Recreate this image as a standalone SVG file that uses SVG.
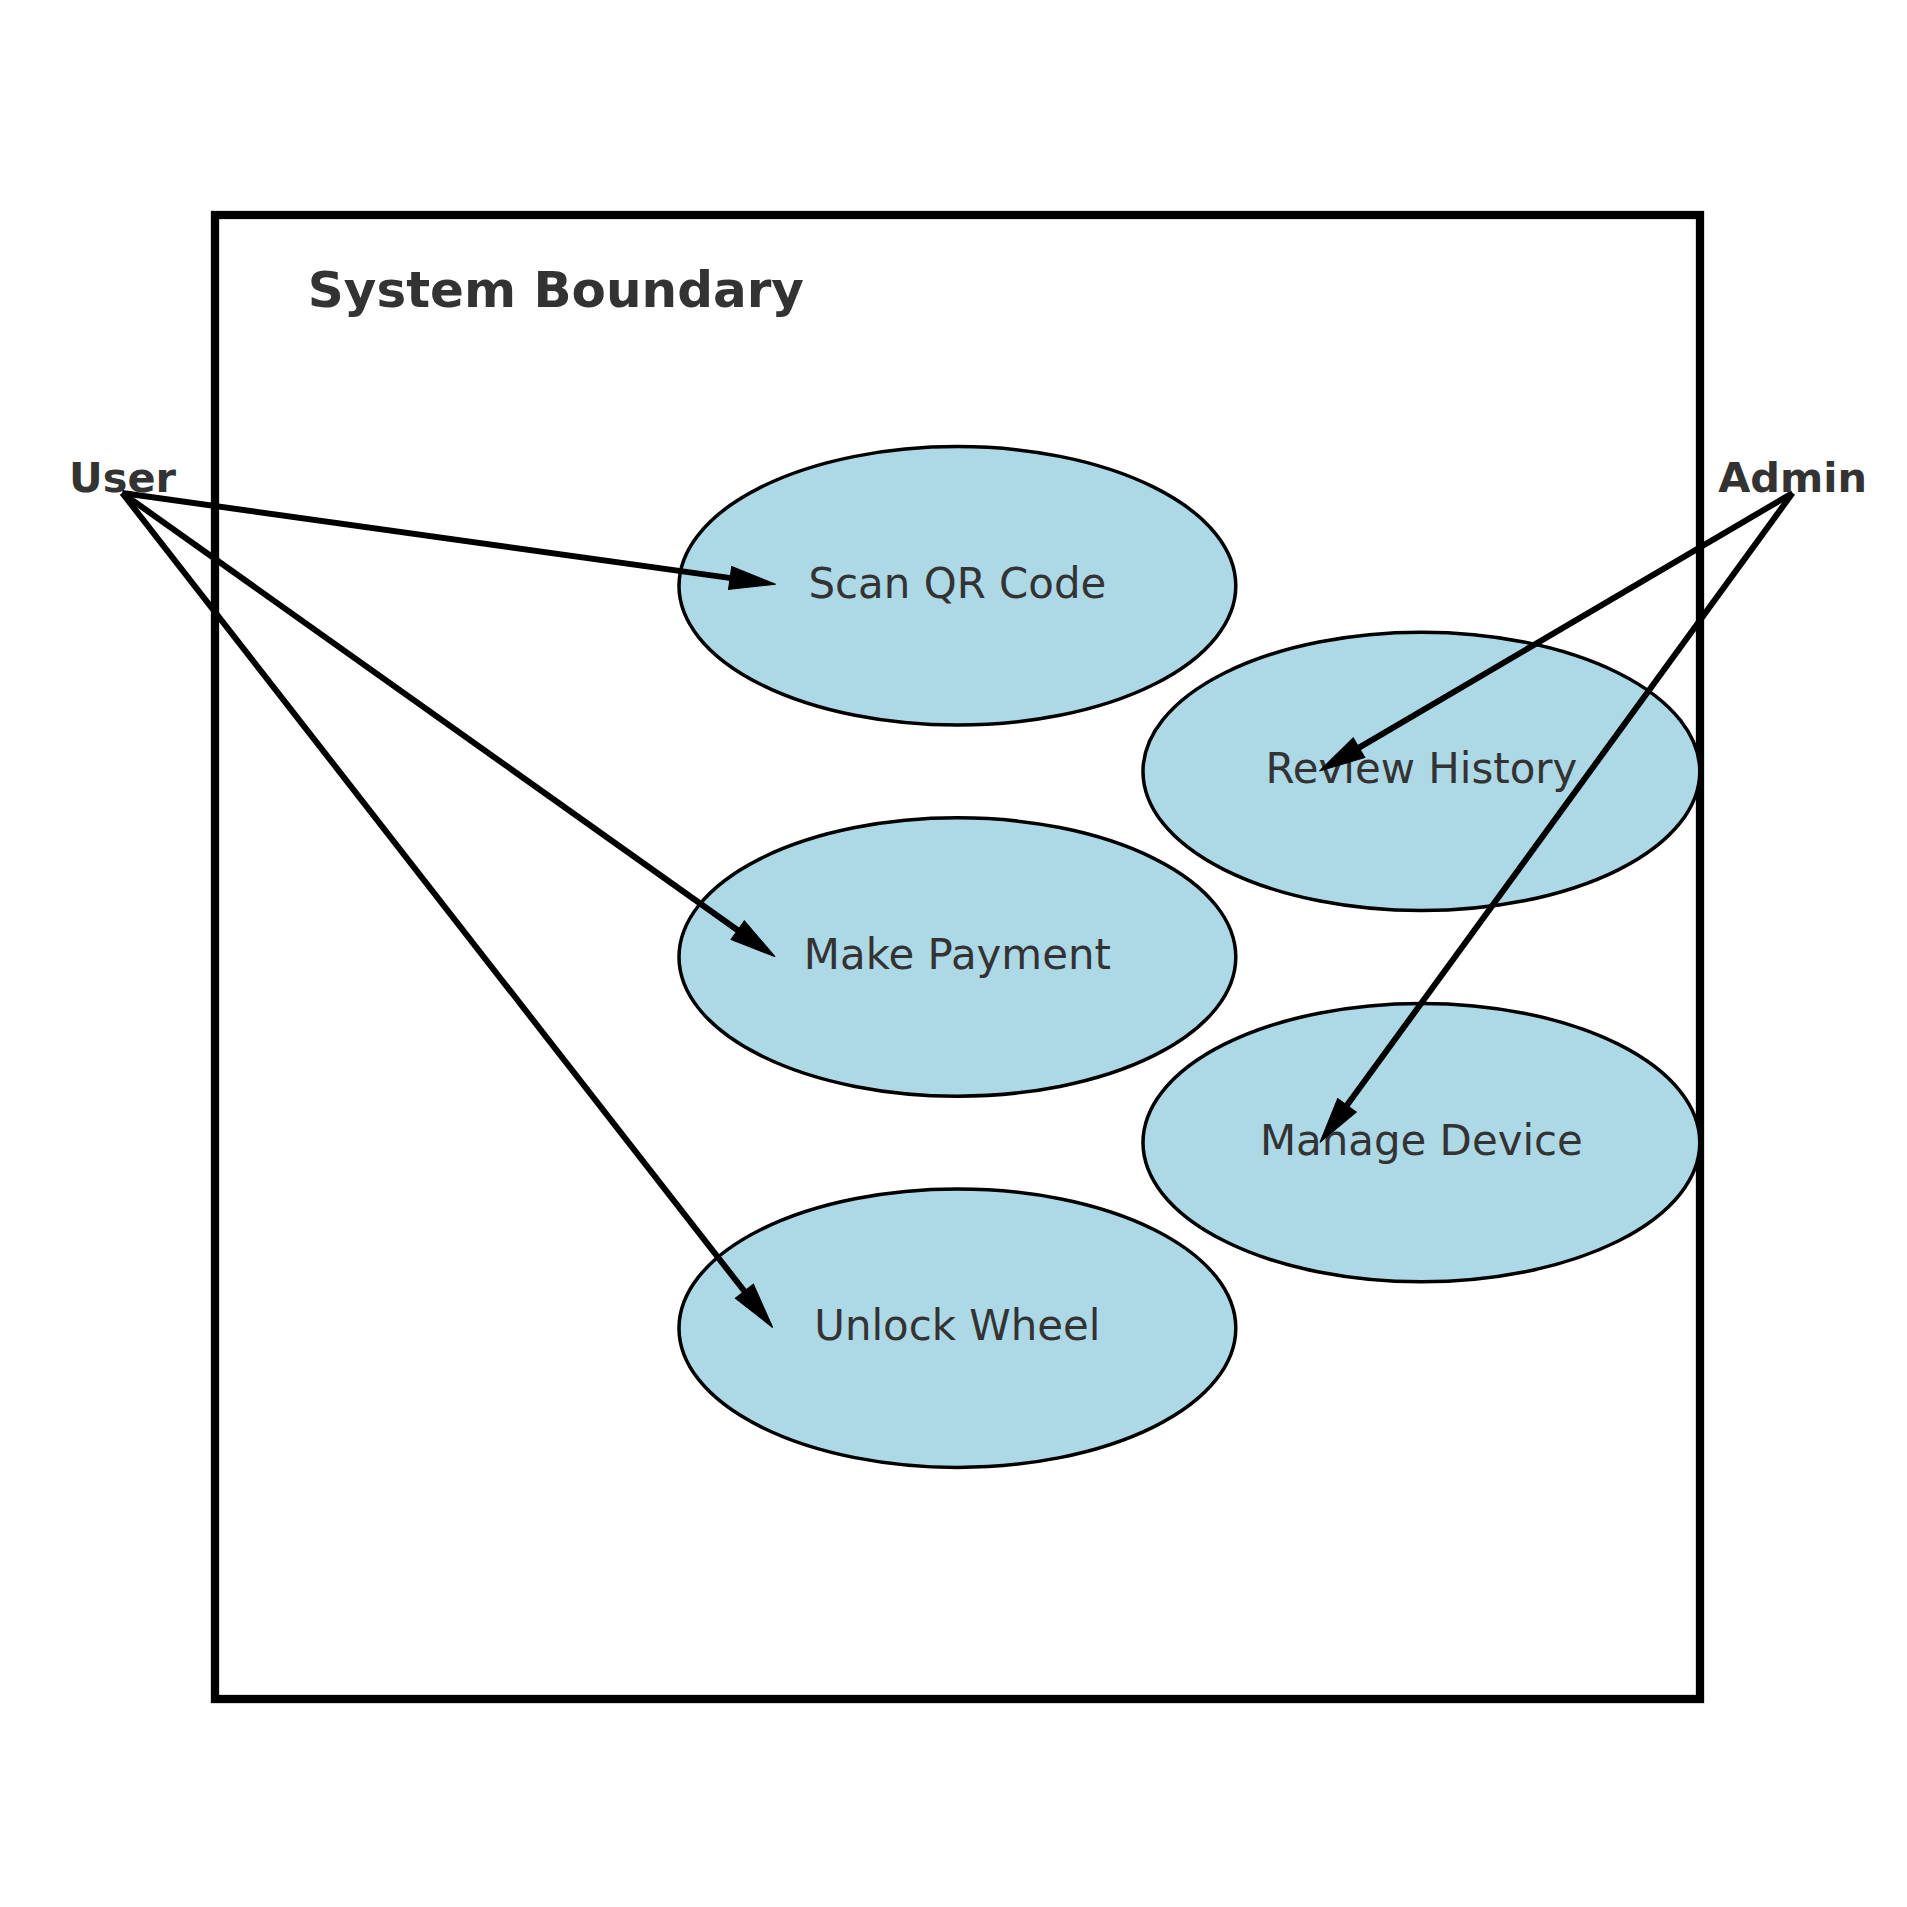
<svg xmlns="http://www.w3.org/2000/svg" width="1907" height="1907" viewBox="0 0 1907 1907">
  <style>
    .usecase { fill: #ADD8E6; stroke: #000000; stroke-width: 3.5; }
    .uc-label { font-family: "DejaVu Sans", "Liberation Sans", sans-serif; font-size: 41.9px; fill: #333333; text-anchor: middle; }
    .actor { font-family: "DejaVu Sans", "Liberation Sans", sans-serif; font-size: 41.5px; font-weight: bold; fill: #333333; text-anchor: middle; }
    .title { font-family: "DejaVu Sans", "Liberation Sans", sans-serif; font-size: 50px; font-weight: bold; fill: #333333; }
    .boundary { fill: none; stroke: #000000; stroke-width: 8.3; }
    .conn { fill: none; stroke: #000000; stroke-width: 6; stroke-linecap: butt; marker-end: url(#head); }
  </style>
  <defs>
    <marker id="head" markerUnits="userSpaceOnUse" markerWidth="48" markerHeight="24" refX="1" refY="11.5" orient="auto" overflow="visible">
      <path d="M0,0 L46,11.5 L0,23 Z" fill="#000000" stroke="#000000" stroke-width="1" stroke-linejoin="miter"/>
    </marker>
  </defs>
  <rect width="1907" height="1907" fill="#ffffff"/>

  <g id="system-boundary">
    <rect class="boundary" x="215" y="215" width="1485" height="1484"/>
    <text class="title" x="307.8" y="307">System Boundary</text>
  </g>

  <g id="uc-scan-qr">
    <ellipse class="usecase" cx="957.4" cy="585.8" rx="278.4" ry="139.2"/>
    <text class="uc-label" x="957.4" y="597.8">Scan QR Code</text>
  </g>
  <g id="uc-review-history">
    <ellipse class="usecase" cx="1421.4" cy="771.4" rx="278.4" ry="139.2"/>
    <text class="uc-label" x="1421.4" y="783.4">Review History</text>
  </g>
  <g id="uc-make-payment">
    <ellipse class="usecase" cx="957.4" cy="957" rx="278.4" ry="139.2"/>
    <text class="uc-label" x="957.4" y="969">Make Payment</text>
  </g>
  <g id="uc-manage-device">
    <ellipse class="usecase" cx="1421.4" cy="1142.6" rx="278.4" ry="139.2"/>
    <text class="uc-label" x="1421.4" y="1154.6">Manage Device</text>
  </g>
  <g id="uc-unlock-wheel">
    <ellipse class="usecase" cx="957.4" cy="1328.2" rx="278.4" ry="139.2"/>
    <text class="uc-label" x="957.4" y="1340.2">Unlock Wheel</text>
  </g>

  <g id="connectors">
    <line class="conn" x1="122.2" y1="493" x2="731.1" y2="578.1"/>
    <line class="conn" x1="122.2" y1="493" x2="738.5" y2="930.7"/>
    <line class="conn" x1="122.2" y1="493" x2="745.0" y2="1292.0"/>
    <line class="conn" x1="1792.6" y1="493" x2="1358.2" y2="748.2"/>
    <line class="conn" x1="1792.6" y1="493" x2="1346.4" y2="1106.1"/>
  </g>

  <g id="actor-user">
    <text class="actor" x="122.5" y="492">User</text>
  </g>
  <g id="actor-admin">
    <text class="actor" x="1792.6" y="492">Admin</text>
  </g>
</svg>
